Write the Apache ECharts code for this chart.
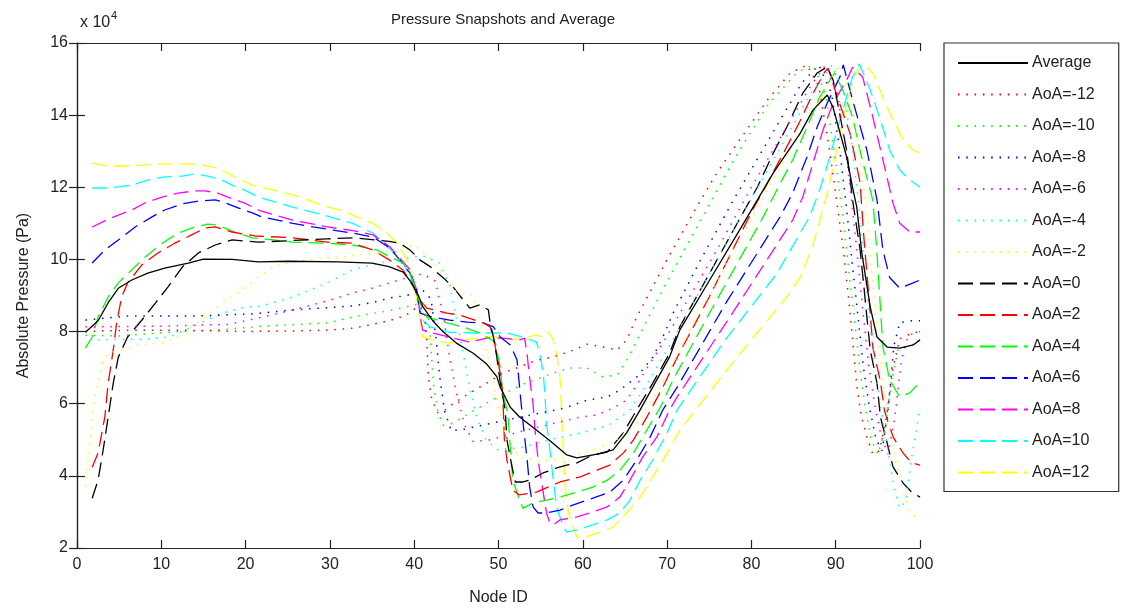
<!DOCTYPE html>
<html>
<head>
<meta charset="utf-8">
<title>Pressure Snapshots and Average</title>
<script src="https://cdn.jsdelivr.net/npm/echarts@6/dist/echarts.min.js"></script>
<style>
html, body { margin: 0; padding: 0; background: #fff; }
#chart { width: 1122px; height: 611px; }
</style>
</head>
<body>
<div id="chart"></div>
<script>
// values in units of 1e4 Pa; [node, pressure]
const average = [[1,7.98],[2.5,8.3],[3.7,8.8],[4.9,9.2],[6.5,9.43],[8.4,9.62],[10.4,9.76],[13.2,9.9],[15,10.01],[18.4,10.0],[21.5,9.93],[25,9.95],[31,9.93],[35,9.9],[37,9.8],[38.7,9.65],[39.7,9.35],[40.5,9.0],[41,8.7],[42.2,8.3],[43.4,8.0],[45,7.68],[47,7.4],[48.6,7.1],[49.8,6.75],[50.2,6.46],[51.4,5.9],[52.5,5.63],[54.5,5.27],[56.5,4.9],[58.1,4.58],[59.3,4.5],[61.7,4.6],[63.6,4.72],[65.2,5.19],[66.8,5.83],[68.3,6.46],[70.3,7.3],[71.5,8.04],[75,9.41],[79,10.97],[82.6,12.4],[85.8,13.5],[87.3,14.14],[89,14.56],[89.7,14.2],[91.3,12.84],[92,12.0],[92.5,11.45],[93.1,10.18],[94.1,8.68],[94.9,7.85],[96.1,7.57],[97.6,7.54],[99.2,7.63],[100,7.77]];

const aoaM12 = [[1,8.0],[6,8.04],[12,8.04],[20,8.0],[26,8.02],[30,8.04],[33,8.1],[35,8.2],[37,8.3],[39,8.45],[40.5,8.7],[41.2,8.6],[41.5,7.7],[41.7,6.7],[42.1,6.1],[42.8,5.75],[43.5,5.8],[44.6,6.0],[46.6,6.3],[48.6,6.57],[50.5,6.85],[52.5,7.02],[54.5,7.2],[56.5,7.3],[58.5,7.45],[60.5,7.65],[62.4,7.57],[64.1,7.49],[65.2,7.77],[66.4,8.4],[70,10.0],[73.5,11.45],[75.9,12.4],[78.6,13.31],[81.9,14.42],[84.6,15.17],[86.6,15.39],[88,14.8],[89.3,13.0],[90.3,11.3],[90.9,10.3],[91.5,9.0],[92,7.8],[92.5,6.5],[93,5.7],[93.7,5.08],[94.4,4.6],[95.2,4.7],[96,5.6],[96.8,7.0],[97.6,7.8],[99,7.95],[100,8.0]];
const aoaM10 = [[1,7.9],[5,7.88],[12,8.0],[17,8.05],[22,8.15],[29.7,8.24],[32.7,8.4],[35,8.5],[37,8.58],[39,8.68],[41,8.8],[41.7,8.4],[42,7.5],[42.3,6.5],[42.8,5.8],[43.4,5.4],[44.5,5.45],[47,5.8],[50,6.2],[53,6.55],[56.5,6.85],[58.5,6.99],[60.5,6.99],[62.4,6.74],[64.1,6.8],[65.2,7.21],[66,7.57],[70,9.4],[74,11.1],[78,12.8],[82,14.3],[85.5,15.2],[87.3,15.39],[88.8,14.6],[89.8,13],[90.8,11.3],[91.6,9.6],[92.3,8.2],[92.9,6.9],[93.5,5.9],[94.2,5.0],[95,4.6],[95.8,5.2],[96.6,6.6],[97.4,7.5],[98.5,7.6],[100,7.7]];
const aoaM8 = [[1,8.32],[6,8.43],[14,8.43],[20.8,8.49],[25.6,8.6],[32.7,8.71],[35,8.8],[37.1,8.93],[39.1,9.0],[41,9.15],[42,8.9],[42.6,7.8],[43,6.8],[43.6,5.8],[44.4,5.25],[46,5.3],[49,5.45],[53,5.65],[56.9,5.83],[58.1,5.9],[60.5,6.1],[62.9,6.19],[64.4,6.38],[66.4,6.74],[68.3,7.29],[69.5,7.85],[70.7,8.51],[74,10.0],[78,11.7],[82,13.3],[86,14.9],[88,15.39],[89.5,14.6],[90.5,13],[91.3,11.4],[92,9.8],[92.7,8.3],[93.3,7.0],[94,5.9],[94.8,5.0],[95.5,4.7],[96.2,5.8],[96.9,7.6],[97.6,8.25],[99,8.3],[100,8.3]];
const aoaM6 = [[1,8.13],[10,8.15],[18,8.2],[22,8.4],[25.6,8.6],[29.7,8.85],[32.7,9.07],[35,9.2],[37.1,9.35],[39.1,9.49],[41,9.6],[42.5,9.4],[43.5,8.4],[44.2,7.3],[45,6.3],[46,5.4],[47,4.95],[49,5.0],[53,5.25],[56.5,5.45],[59.7,5.63],[61.7,5.69],[63.6,5.88],[65.2,6.1],[66.4,6.52],[68,7.13],[69.5,7.68],[72,8.7],[76,10.3],[80,12.0],[84,13.6],[87,14.8],[88.8,15.39],[90.2,14.6],[91.2,13],[92,11.4],[92.7,9.8],[93.3,8.4],[93.9,7.1],[94.6,6.0],[95.4,5.1],[96.2,4.6],[97,5.6],[97.8,7.2],[98.6,7.9],[100,8.0]];
const aoaM4 = [[1.5,7.77],[8,7.79],[11,7.85],[13.6,8.13],[17.2,8.51],[19.9,8.68],[21.7,8.7],[25.6,8.96],[29.7,9.35],[32.7,9.71],[35,9.85],[38,10.0],[41,10.1],[43,9.9],[44.2,9.3],[45.3,8.0],[46.3,6.8],[47.3,5.7],[48.5,5.0],[50,4.7],[53,4.8],[56,5.0],[60,5.2],[63,5.4],[65.5,5.8],[67.5,6.5],[69,7.1],[71,7.9],[75,9.6],[79,11.3],[83,12.9],[87,14.6],[89.6,15.39],[91,14.6],[92,13],[92.8,11.4],[93.4,9.8],[94,8.3],[94.7,7.0],[95.4,5.8],[96.2,4.7],[97,3.6],[97.6,3.1],[98.3,3.3],[99,4.5],[99.5,5.2],[100,5.9]];
const aoaM2 = [[1,3.7],[1.3,4.4],[1.6,5.1],[1.9,5.83],[2.4,6.57],[3,7.13],[3.7,7.4],[5.3,7.49],[7.3,7.63],[10.1,7.68],[11.6,7.82],[12.5,7.96],[15.2,8.4],[17.2,8.79],[19.6,9.15],[21.5,9.51],[23.3,9.79],[25.6,9.93],[28.8,10.04],[31.6,10.07],[36,10.2],[40,10.4],[42,10.0],[45,9.1],[47,9.0],[48,8.2],[49,7.0],[50,5.9],[51,5.0],[52.5,4.5],[55,4.4],[58,4.5],[61,4.7],[64,5.0],[66.5,5.5],[68.5,6.2],[70,6.8],[74,8.6],[78,10.3],[82,12.0],[86,13.6],[88.5,14.6],[90.3,15.39],[91.8,14.6],[92.8,13],[93.6,11.4],[94.2,9.8],[94.8,8.3],[95.4,7.0],[96.1,5.8],[96.9,4.7],[97.8,3.7],[98.8,3.0],[99.5,2.85],[100,2.85]];

const aoa0 = [[1.8,3.38],[2.5,3.88],[3.1,4.71],[3.7,5.63],[4.3,6.57],[4.9,7.29],[6,7.85],[7.7,8.32],[9.3,8.79],[10.8,9.24],[12.5,9.79],[14.4,10.18],[16.4,10.4],[18.4,10.54],[21.5,10.48],[29.7,10.57],[32.7,10.6],[37,10.5],[38.3,10.45],[39.5,10.26],[40.7,9.98],[41.9,9.8],[43.4,9.5],[44.6,9.24],[45.8,8.88],[46.6,8.65],[47.8,8.74],[48.8,8.6],[49,8.24],[49.4,7.85],[49.8,7.3],[50.2,6.6],[50.8,5.82],[51,5.0],[51.6,4.25],[52,3.83],[52.9,3.83],[53.7,3.88],[55.3,4.08],[56.9,4.22],[58.1,4.3],[59.3,4.36],[61.2,4.58],[62.9,4.66],[64.8,5.19],[66.4,5.83],[68.3,6.57],[70.3,7.4],[71.5,8.13],[75,9.6],[79,11.29],[80.7,12.0],[82.6,12.95],[84.2,13.67],[86.1,14.61],[87.8,15.17],[89,15.34],[89.7,14.97],[91.3,13.03],[92,11.65],[92.9,10.26],[93.3,9.35],[93.7,8.4],[94.1,7.49],[94.9,6.57],[95.3,5.63],[96.1,4.91],[96.8,4.25],[98,3.8],[99,3.55],[100,3.41]];
const aoa2 = [[1.8,4.24],[2.5,4.63],[3.3,5.63],[3.7,6.57],[4.3,7.49],[4.7,8.24],[5.3,8.96],[6,9.35],[7.7,9.85],[9.6,10.18],[11.6,10.45],[13.6,10.68],[15.2,10.87],[16.4,10.9],[18.4,10.76],[21.1,10.65],[25.6,10.6],[29.7,10.48],[32.7,10.45],[35.1,10.26],[37.1,9.98],[38.7,9.7],[39.9,9.24],[40.7,8.87],[41.5,8.65],[43.9,8.51],[45.4,8.46],[48.2,8.24],[49,8.13],[49.4,7.85],[50.2,6.85],[50.5,6.3],[50.7,5.0],[51,4.44],[51.7,3.6],[52.5,3.47],[53.7,3.52],[54.5,3.55],[57.3,3.83],[59.7,3.97],[61.7,4.16],[63.2,4.3],[64.8,4.63],[66,4.99],[67.6,5.63],[69.5,6.46],[71.2,7.29],[75,8.96],[80.2,11.4],[81.4,11.9],[83,12.6],[84.6,13.3],[85.8,13.85],[87.3,14.6],[88.7,15.2],[89.1,15.3],[90.2,14.5],[91.7,13.5],[92.9,12.12],[93.3,10.73],[93.7,9.62],[94.1,8.51],[94.4,7.57],[95.3,6.62],[95.8,5.8],[96.8,5.08],[98,4.63],[99,4.36],[100,4.3]];
const aoa4 = [[1,7.54],[1.8,7.85],[2.5,8.4],[3.7,8.96],[4.9,9.35],[6.5,9.71],[8.1,10.07],[10.1,10.45],[12,10.73],[14,10.9],[15.5,10.98],[16.7,10.95],[18.7,10.76],[20.8,10.6],[23.3,10.54],[25.6,10.48],[29.7,10.45],[32.7,10.4],[35.6,10.26],[37.1,10.07],[38.7,9.9],[39.7,9.51],[40.5,8.9],[41.5,8.4],[43.9,8.24],[45.8,8.13],[47.8,7.96],[49.6,7.71],[50.2,7.02],[50.5,6.3],[51.1,5.74],[51.4,4.8],[51.7,3.88],[52.5,3.33],[52.9,3.1],[54.1,3.25],[55.7,3.33],[57.3,3.41],[59.3,3.55],[61.2,3.69],[62.9,3.88],[64.4,4.16],[66,4.63],[67.6,5.27],[69.2,5.9],[70.7,6.66],[75,8.5],[81.4,11.18],[83,11.92],[84.9,12.76],[86.6,13.67],[88.1,14.5],[89.3,14.97],[89.9,15.17],[91,14.6],[92,13.95],[93,12.9],[94.4,11.65],[94.9,10.18],[95.3,8.68],[95.6,7.57],[96.4,6.66],[97.6,6.19],[98.8,6.3],[100,6.6]];
const aoa6 = [[1.8,9.9],[3.3,10.26],[4.9,10.54],[6.9,10.9],[8.9,11.18],[10.4,11.37],[12.5,11.54],[14.4,11.62],[16.4,11.65],[17.6,11.57],[19.1,11.43],[20.8,11.29],[21.9,11.18],[25.6,11.0],[28,10.9],[32.7,10.73],[35.1,10.62],[37.1,10.32],[38.3,9.98],[39.5,9.62],[40.3,9.15],[40.7,8.51],[42.2,8.4],[44.2,8.32],[46.3,8.26],[48.2,8.24],[49.4,8.13],[50.2,7.85],[51.4,7.63],[52.2,7.21],[52.5,6.46],[52.9,5.5],[53.4,4.44],[53.7,3.69],[54.1,3.14],[54.7,2.97],[55.7,2.97],[57.3,3.05],[58.8,3.19],[61.2,3.38],[63.2,3.55],[64.8,3.88],[66.4,4.44],[68,5.08],[69.5,5.83],[71.2,6.46],[77,8.8],[83.4,11.18],[84.9,11.84],[86.6,12.84],[87.8,13.67],[89,14.34],[90.5,15.06],[90.9,15.39],[92,14.42],[93.7,13.03],[94.9,11.65],[95.6,10.26],[96.4,9.5],[97.6,9.2],[99.2,9.35],[100,9.43]];
const aoa8 = [[1.8,10.9],[3.3,11.07],[4.9,11.23],[6.5,11.37],[8.1,11.57],[10.1,11.73],[12,11.84],[14,11.9],[15.2,11.9],[16.7,11.84],[18.4,11.68],[19.9,11.56],[21.7,11.35],[25.6,11.09],[29.7,10.9],[32.7,10.8],[35.1,10.68],[37.1,10.35],[38.3,10.04],[39.5,9.71],[40.3,9.15],[40.8,8.3],[41,8.04],[42.2,7.96],[44.6,7.82],[46.6,7.71],[48.6,7.82],[50.5,7.82],[52.5,7.77],[53.1,7.82],[53.4,7.35],[53.7,6.7],[54.1,6.0],[54.3,5.35],[54.7,4.44],[55.2,3.69],[55.7,2.97],[56.1,2.69],[56.5,2.64],[57.3,2.78],[59.3,2.86],[61.2,3.0],[62.9,3.14],[64.4,3.41],[65.6,3.88],[67.1,4.52],[68.8,5.08],[70.3,5.83],[71.2,6.19],[78,8.6],[84.9,11.09],[86.1,11.73],[87.3,12.67],[88.5,13.59],[89.7,14.34],[91.3,14.97],[92,15.33],[93.2,15.06],[94.4,13.95],[95.6,12.76],[96.8,11.56],[97.6,11.0],[98.8,10.76],[100,10.76]];
const aoa10 = [[1.8,11.98],[3.3,11.98],[4.9,12.01],[6.5,12.06],[8.4,12.2],[10.4,12.29],[12.5,12.31],[14,12.37],[15.5,12.31],[17.2,12.2],[18.4,12.06],[19.9,11.92],[21.5,11.73],[25.6,11.45],[29.7,11.2],[32.7,11.0],[35.1,10.73],[36.3,10.48],[37.5,10.2],[38.7,9.9],[39.5,9.51],[40.3,9.07],[41,8.32],[41.9,8.13],[44.2,7.98],[47.4,7.96],[51,7.96],[52.9,7.85],[54.5,7.71],[54.9,7.4],[55.3,6.85],[55.5,6.3],[55.7,5.47],[56.1,4.72],[56.5,3.88],[56.9,3.14],[57.7,2.58],[58.1,2.44],[59.3,2.5],[61.2,2.64],[62.9,2.78],[64.4,2.97],[65.6,3.33],[66.8,3.88],[68.3,4.44],[70,5.19],[71.2,5.83],[77,7.8],[83,9.6],[86.9,11.18],[88.1,11.92],[89.3,12.84],[90.5,13.87],[91.3,14.5],[92,15.06],[92.8,15.42],[94.1,14.7],[95.3,13.87],[96.4,13.03],[97.6,12.48],[98.8,12.2],[100,12.01]];
const aoa12 = [[1.8,12.67],[3.7,12.59],[6.5,12.59],[9.6,12.64],[14.4,12.64],[16.7,12.53],[18.7,12.29],[20.8,12.06],[22.3,11.98],[25.6,11.79],[29.7,11.46],[31.2,11.37],[33.2,11.18],[35.1,11.0],[36.8,10.73],[38.3,10.35],[39.1,9.98],[39.9,9.43],[40.3,8.87],[40.7,8.32],[41,7.85],[42.2,7.77],[44.2,7.68],[46.3,7.77],[48.2,7.85],[50.2,7.85],[51.7,7.77],[53.4,7.85],[54.5,7.9],[55.3,7.85],[55.9,7.99],[56.5,7.77],[56.9,7.4],[57.3,6.7],[57.5,5.63],[57.7,4.63],[57.9,3.69],[58.3,2.97],[59.3,2.3],[60,2.28],[61.7,2.41],[63.6,2.58],[65.2,2.97],[66.8,3.41],[68.3,3.97],[70,4.63],[71.5,5.27],[78,7.2],[84.2,8.96],[85.8,9.5],[87.3,10.4],[89,11.84],[90.2,13.12],[90.9,13.95],[92,14.97],[93.2,15.45],[94.4,15.17],[95.6,14.5],[96.8,13.87],[98,13.31],[99.2,13.03],[100,12.95]];

const seriesNames = ['Average','AoA=-12','AoA=-10','AoA=-8','AoA=-6','AoA=-4','AoA=-2','AoA=0','AoA=2','AoA=4','AoA=6','AoA=8','AoA=10','AoA=12'];
const seriesData = [average, aoaM12, aoaM10, aoaM8, aoaM6, aoaM4, aoaM2, aoa0, aoa2, aoa4, aoa6, aoa8, aoa10, aoa12];
const colors = ['#000000','#ff0000','#00ff00','#0000ff','#ff00ff','#00ffff','#ffff00','#000000','#ff0000','#00ff00','#0000ff','#ff00ff','#00ffff','#ffff00'];
const styles = ['solid','dotted','dotted','dotted','dotted','dotted','dotted','dashed','dashed','dashed','dashed','dashed','dashed','dashed'];
const xTicks = [0, 10, 20, 30, 40, 50, 60, 70, 80, 90, 100];
const yTicks = [2, 4, 6, 8, 10, 12, 14, 16];

const FONT = '"Liberation Sans", Arial, sans-serif';
const dashFor = { solid: 'solid', dotted: [1.5, 6.8], dashed: [15, 7] };

const series = seriesData.map(function (d, i) {
  return {
    name: seriesNames[i],
    type: 'line',
    data: d,
    showSymbol: false,
    symbol: 'none',
    animation: false,
    z: 20 - i,
    lineStyle: { color: colors[i], width: styles[i] === 'dotted' ? 1.5 : 1.3, type: dashFor[styles[i]] },
    itemStyle: { color: colors[i] },
  };
});

const axisCommon = {
  axisLine: { lineStyle: { color: '#222', width: 1.2 } },
  axisTick: { inside: true, length: 8, lineStyle: { color: '#222', width: 1.2 } },
  splitLine: { show: false },
};

const chart = echarts.init(document.getElementById('chart'), null, { renderer: 'canvas' });
chart.setOption({
  backgroundColor: '#fff',
  animation: false,
  textStyle: { fontFamily: FONT },
  title: {
    text: 'Pressure Snapshots and Average',
    left: 498, top: 7, textAlign: 'center',
    textStyle: { fontFamily: FONT, fontSize: 15, fontWeight: 'normal', color: '#222' },
  },
  graphic: [
    { type: 'text', left: 80, top: 15, style: { text: 'x 10', font: '16px ' + FONT, fill: '#222' } },
    { type: 'text', left: 111, top: 10, style: { text: '4', font: '11px ' + FONT, fill: '#222' } },
  ],
  legend: {
    orient: 'vertical',
    left: 944, top: 43,
    padding: [12, 24, 11, 13],
    itemWidth: 70, itemHeight: 14, itemGap: 15.5,
    backgroundColor: '#fff',
    borderColor: '#333', borderWidth: 1.2, borderRadius: 0,
    itemStyle: { color: 'rgba(0,0,0,0)', borderColor: 'rgba(0,0,0,0)', borderWidth: 0, opacity: 0 },
    textStyle: { fontFamily: FONT, fontSize: 16, color: '#222', padding: [0, 0, 0, -1] },
    data: seriesNames,
  },
  grid: { left: 77, right: 202, top: 43, bottom: 63, containLabel: false },
  xAxis: [
    Object.assign({
      type: 'value', min: 0, max: 100, interval: 10, position: 'bottom',
      name: 'Node ID', nameLocation: 'middle', nameGap: 42,
      nameTextStyle: { fontFamily: FONT, fontSize: 16, color: '#222' },
      axisLabel: { fontFamily: FONT, fontSize: 16, color: '#222', margin: 9 },
    }, axisCommon),
    Object.assign({
      type: 'value', min: 0, max: 100, interval: 10, position: 'top',
      axisLabel: { show: false },
    }, axisCommon),
  ],
  yAxis: [
    Object.assign({
      type: 'value', min: 2, max: 16, interval: 2, position: 'left',
      name: 'Absolute Pressure (Pa)', nameLocation: 'middle', nameGap: 45, nameRotate: 90,
      nameTextStyle: { fontFamily: FONT, fontSize: 16, color: '#222' },
      axisLabel: { fontFamily: FONT, fontSize: 16, color: '#222', margin: 9 },
    }, axisCommon),
    Object.assign({
      type: 'value', min: 2, max: 16, interval: 2, position: 'right',
      axisLabel: { show: false },
    }, axisCommon),
  ],
  series: series,
});
</script>
</body>
</html>
